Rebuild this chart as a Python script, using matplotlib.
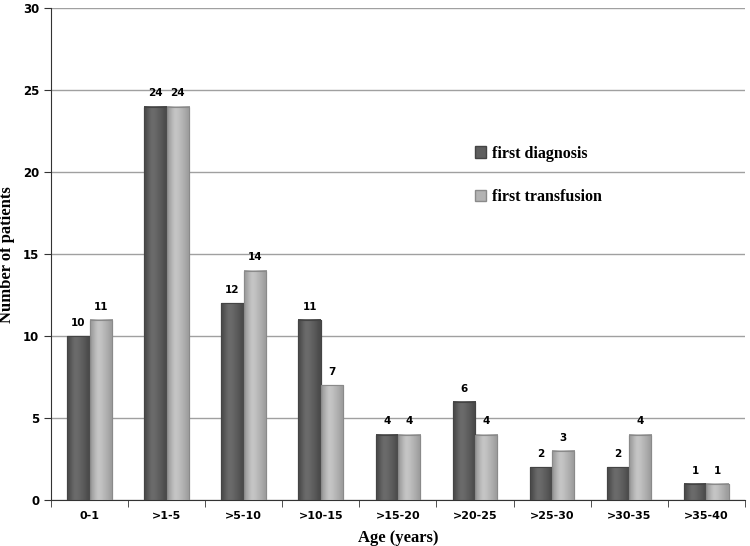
import numpy as np
import matplotlib.pyplot as plt
from matplotlib.patches import Patch
from matplotlib.colors import LinearSegmentedColormap

# age groups and patient counts
age_groups = ["0-1", ">1-5", ">5-10", ">10-15", ">15-20", ">20-25", ">25-30", ">30-35", ">35-40"]
first_diagnosis = [10, 24, 12, 11, 4, 6, 2, 2, 1]
first_transfusion = [11, 24, 14, 7, 4, 4, 3, 4, 1]

dark = "#5e5e5e"
light = "#b3b3b3"

fig = plt.figure(figsize=(7.5, 5.46), dpi=100)
ax = fig.add_axes([0.068, 0.084, 0.925, 0.901])

x = np.arange(len(age_groups))
w = 0.29
b1 = ax.bar(x - w / 2, first_diagnosis, w, color=dark, edgecolor="#444444", linewidth=0.8, zorder=3)
b2 = ax.bar(x + w / 2, first_transfusion, w, color=light, edgecolor="#8a8a8a", linewidth=0.8, zorder=3)

# fake cylinder shading on each bar
shade = np.array([[0.0, 0.35, 0.6, 0.5, 0.35, 0.2, 0.0]])
cmaps = {
    dark: LinearSegmentedColormap.from_list("d", ["#4a4a4a", "#6e6e6e"]),
    light: LinearSegmentedColormap.from_list("l", ["#9c9c9c", "#c8c8c8"]),
}
for bars, c in ((b1, dark), (b2, light)):
    for r in bars:
        x0 = r.get_x()
        ax.imshow(shade, cmap=cmaps[c], vmin=0, vmax=0.6, aspect="auto", interpolation="bicubic",
                  extent=[x0, x0 + r.get_width(), 0, r.get_height()], zorder=3.5)
        ax.bar(x0, r.get_height(), r.get_width(), align="edge", fill=False,
               edgecolor=r.get_edgecolor(), linewidth=0.8, zorder=4)

# value labels
for bars in (b1, b2):
    for r in bars:
        ax.text(r.get_x() + r.get_width() / 2, r.get_height() + 0.5, str(int(r.get_height())),
                ha="center", va="bottom", fontsize=7.5, fontweight="bold", family="DejaVu Sans")

ax.set_xlim(-0.5, len(age_groups) - 0.5)
ax.set_ylim(0, 30)
ax.set_aspect("auto")
ax.set_yticks(range(0, 31, 5))
ax.yaxis.grid(True, color="#a0a0a0", linewidth=1, zorder=0)

ax.set_xticks(x)
ax.set_xticklabels(age_groups, fontsize=8, fontweight="bold")
ax.tick_params(axis="x", length=0, pad=8)
ax.set_xticks(np.arange(-0.5, len(age_groups), 1), minor=True)
ax.tick_params(axis="x", which="minor", length=5, color="#333333")
ax.tick_params(axis="y", labelsize=8.5, length=5, color="#333333")
for lbl in ax.get_yticklabels():
    lbl.set_fontweight("bold")

for s in ["top", "right"]:
    ax.spines[s].set_visible(False)
ax.spines["left"].set_color("#333333")
ax.spines["bottom"].set_color("#333333")

ax.set_ylabel("Number of patients", family="Liberation Serif", fontsize=12, fontweight="bold")
ax.yaxis.set_label_coords(-0.052, 0.5)
ax.set_xlabel("Age (years)", family="Liberation Serif", fontsize=12, fontweight="bold", labelpad=6)

handles = [Patch(facecolor=dark, edgecolor="#444444"), Patch(facecolor=light, edgecolor="#8a8a8a")]
ax.legend(handles, ["first diagnosis", "first transfusion"], loc="upper left",
          bbox_to_anchor=(0.59, 0.75), frameon=False, handlelength=0.7, handleheight=0.7,
          handletextpad=0.4, labelspacing=1.7,
          prop={"family": "Liberation Serif", "size": 11.5, "weight": "bold"})

fig.savefig("out.png", dpi=100)
